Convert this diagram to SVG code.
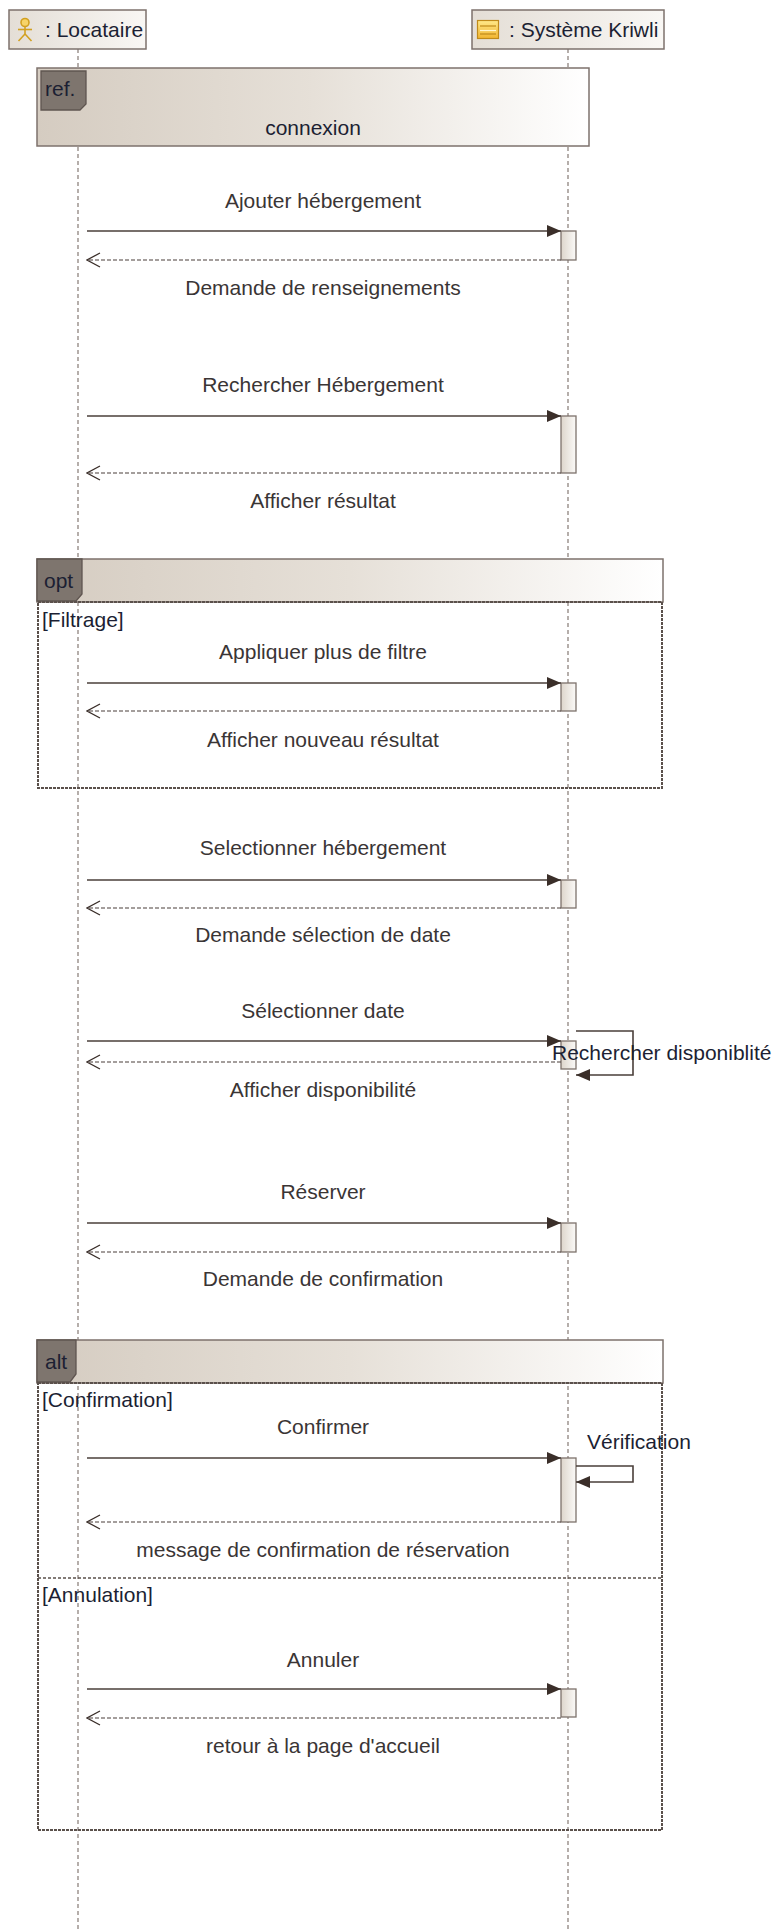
<svg xmlns="http://www.w3.org/2000/svg" width="775" height="1931" viewBox="0 0 775 1931">
<defs>
<linearGradient id="gBand" x1="0" y1="0" x2="1" y2="0">
<stop offset="0" stop-color="#d5ccc1"/>
<stop offset="0.5" stop-color="#e6e0d8"/>
<stop offset="1" stop-color="#ffffff"/>
</linearGradient>
<linearGradient id="gHead" x1="0" y1="0" x2="1" y2="0">
<stop offset="0" stop-color="#e4ded6"/>
<stop offset="1" stop-color="#f9f7f4"/>
</linearGradient>
<linearGradient id="gAct" x1="0" y1="0" x2="1" y2="0">
<stop offset="0" stop-color="#ddd5cb"/>
<stop offset="1" stop-color="#fbfaf8"/>
</linearGradient>
<linearGradient id="gIcon" x1="0" y1="0" x2="0" y2="1">
<stop offset="0" stop-color="#ffe98a"/>
<stop offset="1" stop-color="#f2b530"/>
</linearGradient>
<marker id="filled" viewBox="0 0 14 12" refX="14" refY="6" markerWidth="14" markerHeight="12" markerUnits="userSpaceOnUse" orient="auto">
<path d="M0,0 L14,6 L0,12 z" fill="#3a2e29"/>
</marker>
<marker id="open" viewBox="0 0 15 16" refX="14" refY="8" markerWidth="15" markerHeight="16" markerUnits="userSpaceOnUse" orient="auto">
<path d="M1,1 L14,8 L1,15" fill="none" stroke="#3a2e29" stroke-width="1.3"/>
</marker>
</defs>
<style>
.txt{font-family:"Liberation Sans",Arial,sans-serif;font-size:21px;fill:#3a3535}
.hd{font-family:"Liberation Sans",Arial,sans-serif;font-size:21px;fill:#1c1f33}
.mid{text-anchor:middle}
.life{stroke:#857a74;stroke-width:1.2;stroke-dasharray:4 3;fill:none}
.box{stroke:#7d726c;stroke-width:1.5}
.act{fill:url(#gAct);stroke:#7d726c;stroke-width:1.3}
.sync{stroke:#4a3f3a;stroke-width:1.6;fill:none;marker-end:url(#filled)}
.ret{stroke:#4a3f3a;stroke-width:1.2;stroke-dasharray:4 2;fill:none;marker-end:url(#open)}
.band{fill:url(#gBand);stroke:#7d726c;stroke-width:1.5}
.body{fill:none;stroke:#5a504b;stroke-width:2;stroke-dasharray:3 1}
.sep{fill:none;stroke:#5a504b;stroke-width:1.5;stroke-dasharray:3 2}
.tag{fill:#7e756e;stroke:#5f5550;stroke-width:1.3}
</style>

<g id="lifelines">
<line class="life" x1="78" y1="49" x2="78" y2="1931"/>
<line class="life" x1="568" y1="49" x2="568" y2="1931"/>
</g>

<g id="locataire">
<rect class="box" x="9" y="10" width="137" height="39" fill="url(#gHead)"/>
<g stroke="#d2a020" stroke-width="1.6" fill="none">
<circle cx="25" cy="22.5" r="4" fill="#f7d468"/>
<line x1="25" y1="26.5" x2="25" y2="34"/>
<line x1="18" y1="29.5" x2="32" y2="29.5"/>
<line x1="25" y1="34" x2="18.5" y2="41"/>
<line x1="25" y1="34" x2="31.5" y2="41"/>
</g>
<text class="hd" x="45" y="37">: Locataire</text>
</g>

<g id="systeme">
<rect class="box" x="472" y="10" width="192" height="39" fill="url(#gHead)"/>
<rect x="477.5" y="20.5" width="21" height="18" fill="url(#gIcon)" stroke="#c08a1a" stroke-width="1.2"/>
<line x1="480" y1="26" x2="496" y2="26" stroke="#c08a1a" stroke-width="1.2"/>
<line x1="480" y1="30.5" x2="496" y2="30.5" stroke="#fff6d0" stroke-width="1.2"/>
<line x1="480" y1="34" x2="496" y2="34" stroke="#c08a1a" stroke-width="1.2"/>
<text class="hd" x="509" y="37">: Système Kriwli</text>
</g>

<g id="ref-connexion">
<rect class="band" x="37" y="68" width="552" height="78"/>
<path class="tag" d="M41,71 H86 V104 L80,110 H41 Z"/>
<text class="hd" x="45" y="96">ref.</text>
<text class="hd mid" x="313" y="135">connexion</text>
</g>

<g id="frame-opt">
<rect class="band" x="37" y="559" width="626" height="43"/>
<path class="tag" d="M37,559 H82 V594 L76,601 H37 Z"/>
<text class="hd" x="44" y="588">opt</text>
<rect class="body" x="38" y="602" width="624" height="186"/>
<text class="hd" x="42" y="627">[Filtrage]</text>
</g>

<g id="frame-alt">
<rect class="band" x="37" y="1340" width="626" height="43"/>
<path class="tag" d="M37,1340 H76 V1374 L70,1382 H37 Z"/>
<text class="hd" x="45" y="1369">alt</text>
<rect class="body" x="38" y="1383" width="624" height="447"/>
<line class="sep" x1="38" y1="1578" x2="662" y2="1578"/>
<text class="hd" x="42" y="1407">[Confirmation]</text>
<text class="hd" x="42" y="1602">[Annulation]</text>
</g>

<g id="activations">
<rect class="act" x="561" y="231" width="15" height="29"/>
<rect class="act" x="561" y="416" width="15" height="57"/>
<rect class="act" x="561" y="683" width="15" height="28"/>
<rect class="act" x="561" y="880" width="15" height="28"/>
<rect class="act" x="561" y="1041" width="15" height="28"/>
<rect class="act" x="561" y="1223" width="15" height="29"/>
<rect class="act" x="561" y="1458" width="15" height="64"/>
<rect class="act" x="561" y="1689" width="15" height="28"/>
</g>

<g id="connectors">
<line class="sync" x1="87" y1="231" x2="561" y2="231"/>
<line class="ret" x1="561" y1="260" x2="87" y2="260"/>
<line class="sync" x1="87" y1="416" x2="561" y2="416"/>
<line class="ret" x1="561" y1="473" x2="87" y2="473"/>
<line class="sync" x1="87" y1="683" x2="561" y2="683"/>
<line class="ret" x1="561" y1="711" x2="87" y2="711"/>
<line class="sync" x1="87" y1="880" x2="561" y2="880"/>
<line class="ret" x1="561" y1="908" x2="87" y2="908"/>
<line class="sync" x1="87" y1="1041" x2="561" y2="1041"/>
<line class="ret" x1="561" y1="1062" x2="87" y2="1062"/>
<polyline class="sync" points="576,1031 633,1031 633,1075 576,1075"/>
<line class="sync" x1="87" y1="1223" x2="561" y2="1223"/>
<line class="ret" x1="561" y1="1252" x2="87" y2="1252"/>
<line class="sync" x1="87" y1="1458" x2="561" y2="1458"/>
<polyline class="sync" points="576,1466 633,1466 633,1482 576,1482"/>
<line class="ret" x1="561" y1="1522" x2="87" y2="1522"/>
<line class="sync" x1="87" y1="1689" x2="561" y2="1689"/>
<line class="ret" x1="561" y1="1718" x2="87" y2="1718"/>
</g>

<g id="labels">
<text class="txt mid" x="323" y="208">Ajouter hébergement</text>
<text class="txt mid" x="323" y="295">Demande de renseignements</text>
<text class="txt mid" x="323" y="392">Rechercher Hébergement</text>
<text class="txt mid" x="323" y="508">Afficher résultat</text>
<text class="txt mid" x="323" y="659">Appliquer plus de filtre</text>
<text class="txt mid" x="323" y="747">Afficher nouveau résultat</text>
<text class="txt mid" x="323" y="855">Selectionner hébergement</text>
<text class="txt mid" x="323" y="942">Demande sélection de date</text>
<text class="txt mid" x="323" y="1018">Sélectionner date</text>
<text class="hd" x="552" y="1060">Rechercher disponiblité</text>
<text class="txt mid" x="323" y="1097">Afficher disponibilité</text>
<text class="txt mid" x="323" y="1199">Réserver</text>
<text class="txt mid" x="323" y="1286">Demande de confirmation</text>
<text class="txt mid" x="323" y="1434">Confirmer</text>
<text class="hd" x="587" y="1449">Vérification</text>
<text class="txt mid" x="323" y="1557">message de confirmation de réservation</text>
<text class="txt mid" x="323" y="1667">Annuler</text>
<text class="txt mid" x="323" y="1753">retour à la page d'accueil</text>
</g>
</svg>
